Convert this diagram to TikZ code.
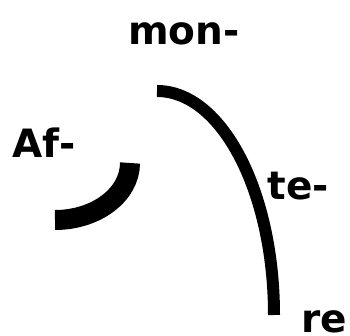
\documentclass[tikz,border=0pt]{standalone}
\usepackage{fontspec}
\setsansfont{DejaVu Sans}
\usepackage{tikz}
\usetikzlibrary{positioning}
\tikzset{
  sylstyle/.style={inner sep=0pt, anchor=base, font=\fontsize{39}{39}\selectfont\sffamily\bfseries},
  curvestyle/.style={black, line cap=butt}
}

\begin{document}
\begin{tikzpicture}
  \useasboundingbox (0,0) rectangle (350pt,336pt);
  \node[sylstyle] (mon) at (184pt,291pt) {mon-};
  \node[sylstyle] (af) at (44pt,178pt) {Af-};
  \node[sylstyle] (te) at (298pt,136pt) {te-};
  \node[sylstyle] (re) at (324pt,3pt) {re};
  \coordinate (afstart) at (130pt,173pt);
  \coordinate (monstart) at (157pt,245pt);
  \draw[curvestyle, line width=20pt] (afstart) arc[start angle=0, end angle=-90, x radius=75pt, y radius=57pt];
  \draw[curvestyle, line width=12pt] (monstart) arc[start angle=90, end angle=0, x radius=117pt, y radius=224pt];
\end{tikzpicture}
\end{document}
